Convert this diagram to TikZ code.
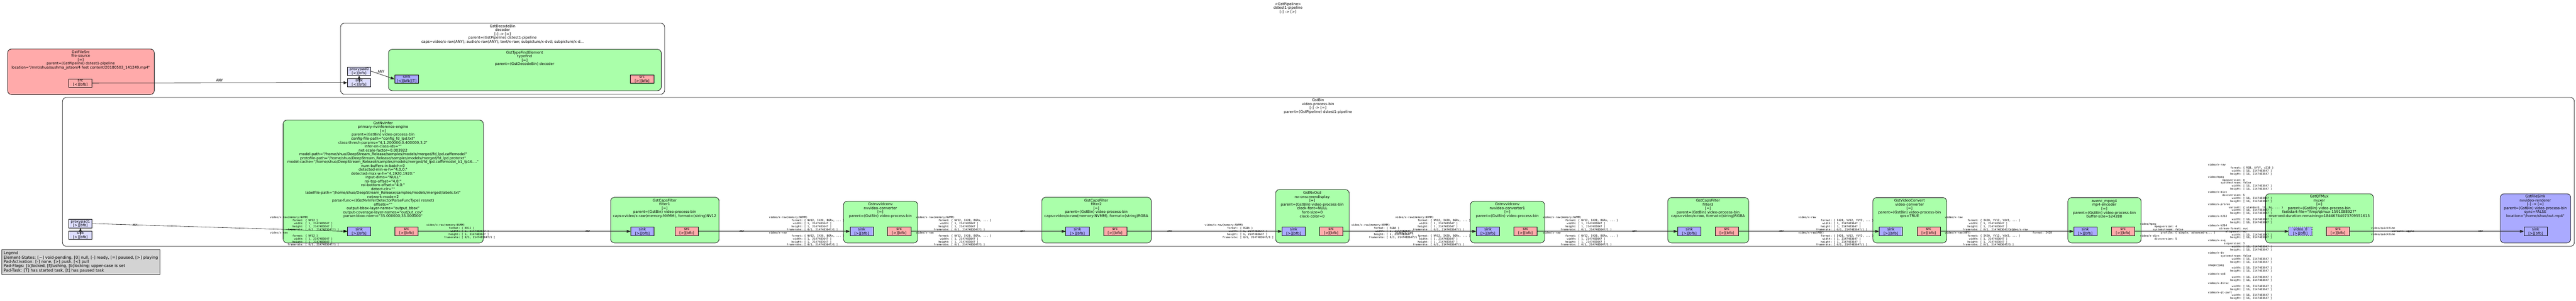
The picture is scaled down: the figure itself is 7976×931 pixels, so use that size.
\documentclass[tikz,border=0pt]{standalone}
\usepackage{fontspec}
\setmainfont{DejaVu Sans}[Ligatures=TeXOff]
\setmonofont{DejaVu Sans Mono}
\usetikzlibrary{arrows.meta}

\definecolor{elemgreen}{HTML}{AAFFAA}
\definecolor{srcred}{HTML}{FFAAAA}
\definecolor{sinkblue}{HTML}{AAAAFF}
\definecolor{ghostblue}{HTML}{DDDDFF}
\definecolor{legendgray}{HTML}{D3D3D3}

\newcommand\elemfont{\fontsize{11.2}{12}\selectfont}
\newcommand\padfont{\fontsize{11.2}{12.7}\selectfont}
\newcommand\capsfont{\ttfamily\fontsize{8.24}{9.4}\selectfont}
\newcommand\anyfont{\ttfamily\fontsize{11.6}{12}\selectfont}
\newcommand\legendfont{\fontsize{12.4}{13.3}\selectfont}
\newcommand\capfield[2]{\makebox[12.041em][r]{#1}: #2}
\newcommand\capsraw[2]{#1\\\capfield{format}{#2}\\\capfield{width}{[ 1, 2147483647 ]}\\\capfield{height}{[ 1, 2147483647 ]}\\\capfield{framerate}{[ 0/1, 2147483647/1 ]}}
\newcommand\capswh{\capfield{width}{[ 16, 2147483647 ]}\\\capfield{height}{[ 16, 2147483647 ]}}

\tikzset{
  bin/.style={draw=black, line width=1.2pt, fill=white, rounded corners=12pt, inner sep=0pt, anchor=north west},
  element/.style={draw=black, line width=1.2pt, rounded corners=12pt, inner sep=0pt, anchor=north west},
  elemtext/.style={align=center, font=\elemfont, inner sep=0pt},
  pad/.style={draw=black, line width=0.8pt, minimum width=72pt, minimum height=26pt, inner sep=0pt, align=center, font=\padfont},
  caps/.style={align=left, font=\capsfont, inner sep=0pt, anchor=west},
  anylabel/.style={font=\capsfont, inner sep=0pt},
  link/.style={->, line width=1.3pt, draw=black!85},
  >={Triangle[length=12pt,width=9pt]},
}

\begin{document}
\begin{tikzpicture}[x=1pt, y=-1pt]
  \useasboundingbox (0,0) rectangle (7976,931);
  \fill[white] (0,0) rectangle (7976,931);

  % pipeline title
  \node[elemtext] (title) at (3988,24.5) {<GstPipeline>\\dstest1-pipeline\\{}[-] -> [>]};

  % bins
  \node[bin, minimum width=1003pt, minimum height=220pt] (decoder) at (1054,71) {};
  \node[elemtext] (decoderlabel) at (1556,105.5) {GstDecodeBin\\decoder\\{}[-] -> [=]\\parent=(GstPipeline) dstest1-pipeline\\caps=video/x-raw(ANY); audio/x-raw(ANY); text/x-raw; subpicture/x-dvd; subpicture/x-d...};
  \node[bin, minimum width=7777pt, minimum height=461pt] (videobin) at (193,301) {};
  \node[elemtext] (videobinlabel) at (4081,329) {GstBin\\video-process-bin\\{}[-] -> [=]\\parent=(GstPipeline) dstest1-pipeline};

  % elements
  \node[element, fill=srcred, minimum width=454pt, minimum height=141pt] (filesource) at (23,151) {};
  \node[elemtext] at (250,186) {GstFileSrc\\file-source\\{}[=]\\parent=(GstPipeline) dstest1-pipeline\\location="/mnt/shuo/sushma\_jetson/4 feet content/20180503\_141249.mp4"};

  \node[element, fill=elemgreen, minimum width=845pt, minimum height=128pt] (typefind) at (1202,152) {};
  \node[elemtext] at (1624.5,181) {GstTypeFindElement\\typefind\\{}[=]\\parent=(GstDecodeBin) decoder};

  \node[element, fill=elemgreen, minimum width=620pt, minimum height=380pt] (primary) at (876,371) {};
  \node[elemtext] at (1186,526) {GstNvInfer\\primary-nvinference-engine\\{}[=]\\parent=(GstBin) video-process-bin\\config-file-path="config\_fd\_lpd.txt"\\class-thresh-params="4,1.200000,0.400000,3,2"\\infer-on-class-ids=""\\net-scale-factor=0.003922\\model-path="/home/shuo/DeepStream\_Release/samples/models/merged/fd\_lpd.caffemodel"\\protofile-path="/home/shuo/DeepStream\_Release/samples/models/merged/fd\_lpd.prototxt"\\model-cache="/home/shuo/DeepStream\_Release/samples/models/merged/fd\_lpd.caffemodel\_b1\_fp16...."\\num-buffers-in-batch=0\\detected-min-w-h="4,0,0:"\\detected-max-w-h="4,1920,1920:"\\input-dims="NULL"\\roi-top-offset="4,0:"\\roi-bottom-offset="4,0:"\\detect-clr=""\\labelfile-path="/home/shuo/DeepStream\_Release/samples/models/merged/labels.txt"\\network-mode=2\\parse-func=((GstNvInferDetectorParseFuncType) resnet)\\offsets=""\\output-bbox-layer-name="output\_bbox"\\output-coverage-layer-names="output\_cov"\\parser-bbox-norm="35.000000;35.000000"};

  \node[element, fill=elemgreen, minimum width=336pt, minimum height=141pt] (filter1) at (1890,610) {};
  \node[elemtext] at (2058,645) {GstCapsFilter\\filter1\\{}[=]\\parent=(GstBin) video-process-bin\\caps=video/x-raw(memory:NVMM), format=(string)NV12};

  \node[element, fill=elemgreen, minimum width=230pt, minimum height=129pt] (converter) at (2611,622) {};
  \node[elemtext] at (2726,651) {Gstnvvidconv\\nvvideo-converter\\{}[=]\\parent=(GstBin) video-process-bin};

  \node[element, fill=elemgreen, minimum width=339pt, minimum height=141pt] (filter2) at (3225,610) {};
  \node[elemtext] at (3394.5,645) {GstCapsFilter\\filter2\\{}[=]\\parent=(GstBin) video-process-bin\\caps=video/x-raw(memory:NVMM), format=(string)RGBA};

  \node[element, fill=elemgreen, minimum width=228pt, minimum height=165pt] (osd) at (3949,586) {};
  \node[elemtext] at (4063,633) {GstNvOsd\\nv-onscreendisplay\\{}[=]\\parent=(GstBin) video-process-bin\\clock-font=NULL\\font-size=0\\clock-color=0};

  \node[element, fill=elemgreen, minimum width=230pt, minimum height=129pt] (converter1) at (4552,622) {};
  \node[elemtext] at (4667,651) {Gstnvvidconv\\nvvideo-converter1\\{}[=]\\parent=(GstBin) video-process-bin};

  \node[element, fill=elemgreen, minimum width=251pt, minimum height=140pt] (filter3) at (5163,611) {};
  \node[elemtext] at (5288.5,646) {GstCapsFilter\\filter3\\{}[=]\\parent=(GstBin) video-process-bin\\caps=video/x-raw, format=(string)RGBA};

  \node[element, fill=elemgreen, minimum width=229pt, minimum height=140pt] (videoconv) at (5798,611) {};
  \node[elemtext] at (5912.5,646) {GstVideoConvert\\video-converter\\{}[=]\\parent=(GstBin) video-process-bin\\qos=TRUE};

  \node[element, fill=elemgreen, minimum width=227pt, minimum height=140pt] (encoder) at (6402,611) {};
  \node[elemtext] at (6515.5,646) {avenc\_mpeg4\\mp4-encoder\\{}[=]\\parent=(GstBin) video-process-bin\\buffer-size=524288};

  \node[element, fill=elemgreen, minimum width=334pt, minimum height=152pt] (muxer) at (7014,599) {};
  \node[elemtext] at (7181,639) {GstQTMux\\muxer\\{}[=]\\parent=(GstBin) video-process-bin\\faststart-file="/tmp/qtmux-1591088927"\\reserved-duration-remaining=18446744073709551615};

  \node[element, fill=sinkblue, minimum width=218pt, minimum height=152pt] (filesink) at (7741,599) {};
  \node[elemtext] at (7850,639) {GstFileSink\\nvvideo-renderer\\{}[-] -> [=]\\parent=(GstBin) video-process-bin\\sync=FALSE\\location="/home/shuo/out.mp4"};

  % pads
  \node[pad, fill=srcred] (fsrcsrc) at (249,257) {src\\{}[<][bfb]};
  \node[pad, fill=ghostblue] (decsink) at (1112,256) {sink\\{}[<][bfb]};
  \node[pad, fill=ghostblue] (decproxy) at (1112,220) {proxypad0\\{}[<][bfb]};
  \node[pad, fill=sinkblue, minimum width=74pt] (tfsink) at (1259,245) {sink\\{}[<][bfb][T]};
  \node[pad, fill=srcred] (tfsrc) at (1988,245) {src\\{}[>][bfb]};

  \node[pad, fill=ghostblue] (vbsink) at (249,728) {sink\\{}[>][bfb]};
  \node[pad, fill=ghostblue] (vbproxy) at (249,692) {proxypad1\\{}[>][bfb]};

  \node[pad, fill=sinkblue] (psink) at (1112,716) {sink\\{}[>][bfb]};
  \node[pad, fill=srcred] (psrc) at (1258.5,716) {src\\{}[>][bfb]};
  \node[pad, fill=sinkblue] (f1sink) at (1989,716) {sink\\{}[>][bfb]};
  \node[pad, fill=srcred] (f1src) at (2126.5,716) {src\\{}[>][bfb]};
  \node[pad, fill=sinkblue] (csink) at (2668,716) {sink\\{}[>][bfb]};
  \node[pad, fill=srcred] (csrc) at (2784,716) {src\\{}[>][bfb]};
  \node[pad, fill=sinkblue] (f2sink) at (3336,716) {sink\\{}[>][bfb]};
  \node[pad, fill=srcred] (f2src) at (3452.5,716) {src\\{}[>][bfb]};
  \node[pad, fill=sinkblue] (osdsink) at (4005.5,716) {sink\\{}[>][bfb]};
  \node[pad, fill=srcred] (osdsrc) at (4121.5,716) {src\\{}[>][bfb]};
  \node[pad, fill=sinkblue] (c1sink) at (4607,716) {sink\\{}[>][bfb]};
  \node[pad, fill=srcred] (c1src) at (4723.5,716) {src\\{}[>][bfb]};
  \node[pad, fill=sinkblue] (f3sink) at (5230.5,716) {sink\\{}[>][bfb]};
  \node[pad, fill=srcred] (f3src) at (5346.5,716) {src\\{}[>][bfb]};
  \node[pad, fill=sinkblue] (vcsink) at (5854.5,716) {sink\\{}[>][bfb]};
  \node[pad, fill=srcred] (vcsrc) at (5971.5,716) {src\\{}[>][bfb]};
  \node[pad, fill=sinkblue] (encsink) at (6456.5,716) {sink\\{}[>][bfb]};
  \node[pad, fill=srcred] (encsrc) at (6573.5,716) {src\\{}[>][bfb]};
  \node[pad, fill=sinkblue, dashed] (muxvideo) at (7122.5,716) {video\_0\\{}[>][bfb]};
  \node[pad, fill=srcred] (muxsrc) at (7239,716) {src\\{}[>][bfb]};
  \node[pad, fill=sinkblue] (fssink) at (7851,716) {sink\\{}[>][bfb]};

  % links
  \draw[link] (decsink.center) -- (decproxy.south);
  \draw[link] (vbsink.center) -- (vbproxy.south);
  \draw[link] (fsrcsrc.east) -- (decsink.west);
  \draw[link] (decproxy.east) -- (tfsink.west);
  \draw[link, line width=0.9pt, draw=black] (vbproxy.east) -- (psink.west);
  \draw[link] (psrc.east) -- (f1sink.west);
  \draw[link] (f1src.east) -- (csink.west);
  \draw[link] (csrc.east) -- (f2sink.west);
  \draw[link] (f2src.east) -- (osdsink.west);
  \draw[link] (osdsrc.east) -- (c1sink.west);
  \draw[link] (c1src.east) -- (f3sink.west);
  \draw[link] (f3src.east) -- (vcsink.west);
  \draw[link] (vcsrc.east) -- (encsink.west);
  \draw[link] (encsrc.east) -- (muxvideo.west);
  \draw[link] (muxsrc.east) -- (fssink.west);

  % link labels
  \node[font=\anyfont, inner sep=0pt] (any1) at (680,249) {ANY};
  \node[font=\anyfont, inner sep=0pt] (any2) at (1180,222) {ANY};
  \node[anylabel] (any3) at (418,697) {ANY};
  \node[anylabel] (any4) at (1820,716) {ANY};
  \node[anylabel] (any5) at (2297,716) {ANY};
  \node[anylabel] (any6) at (3166,716) {ANY};
  \node[anylabel] (any7) at (3622,716) {ANY};
  \node[anylabel] (any8) at (5061,716) {ANY};
  \node[anylabel] (any9) at (5516,716) {ANY};
  \node[anylabel] (any10) at (7681,716) {ANY};

  \node[caps] (capsa) at (836,716) {\capsraw{video/x-raw(memory:NVMM)}{\{ NV12 \}}\\\capsraw{video/x-raw}{\{ NV12 \}}};
  \node[caps] (capsb) at (1320,716) {\capsraw{video/x-raw(memory:NVMM)}{\{ NV12 \}}};
  \node[caps] (capsc) at (2381,716) {\capsraw{video/x-raw(memory:NVMM)}{\{ NV12, I420, BGRx, ... \}}\\\capsraw{video/x-raw}{\{ NV12, I420, BGRx, ... \}}};
  \node[caps] (capsd) at (2836,716) {\capsraw{video/x-raw(memory:NVMM)}{\{ NV12, I420, BGRx, ... \}}\\\capsraw{video/x-raw}{\{ NV12, I420, BGRx, ... \}}};
  \node[caps] (capse) at (3730,716) {\capsraw{video/x-raw(memory:NVMM)}{\{ RGBA \}}};
  \node[caps] (capsf) at (4184,716) {\capsraw{video/x-raw(memory:NVMM)}{\{ RGBA \}}};
  \node[caps] (capsg) at (4320,716) {\capsraw{video/x-raw(memory:NVMM)}{\{ NV12, I420, BGRx, ... \}}\\\capsraw{video/x-raw}{\{ NV12, I420, BGRx, ... \}}};
  \node[caps] (capsh) at (4777,716) {\capsraw{video/x-raw(memory:NVMM)}{\{ NV12, I420, BGRx, ... \}}\\\capsraw{video/x-raw}{\{ NV12, I420, BGRx, ... \}}};
  \node[caps] (capsi) at (5568,716) {\capsraw{video/x-raw}{\{ I420, YV12, YUY2, ... \}}\\\capsraw{video/x-raw(ANY)}{\{ I420, YV12, YUY2, ... \}}};
  \node[caps] (capsj) at (6022,716) {\capsraw{video/x-raw}{\{ I420, YV12, YUY2, ... \}}\\\capsraw{video/x-raw(ANY)}{\{ I420, YV12, YUY2, ... \}}};
  \node[caps] (capsk) at (6224,716) {video/x-raw\\\capfield{format}{I420}};
  \node[caps] (capsl) at (6626,716) {video/mpeg\\\capfield{mpegversion}{4}\\\capfield{systemstream}{false}\\\capfield{profile}{\{ simple, advanced-s... \}}\\video/x-divx\\\capfield{divxversion}{5}};
  \node[caps] (capsm) at (6836,717.5) {video/x-raw\\\capfield{format}{\{ RGB, UYVY, v210 \}}\\\capswh\\video/mpeg\\\capfield{mpegversion}{4}\\\capfield{systemstream}{false}\\\capswh\\video/x-divx\\\capfield{divxversion}{5}\\\capswh\\video/x-prores\\\capfield{variant}{\{ standard, lt, hq, ... \}}\\\capswh\\video/x-h263\\\capswh\\video/x-h264\\\capfield{stream-format}{avc}\\\capfield{alignment}{au}\\\capswh\\video/x-svq\\\capfield{svqversion}{3}\\\capswh\\video/x-dv\\\capfield{systemstream}{false}\\\capswh\\image/jpeg\\\capswh\\video/x-vp8\\\capswh\\video/x-dirac\\\capswh\\video/x-qt-part\\\capswh};
  \node[caps] (capsn) at (7341,716) {video/quicktime\\\capfield{variant}{apple}\\video/quicktime};

  % legend
  \node[draw=black!80, line width=1pt, fill=legendgray, anchor=north west, inner xsep=6pt, inner ysep=6pt, align=left, font=\legendfont] (legend) at (5,772) {Legend\\Element-States: [\textasciitilde] void-pending, [0] null, [-] ready, [=] paused, [>] playing\\Pad-Activation: [-] none, [>] push, [<] pull\\Pad-Flags: [b]locked, [f]lushing, [b]locking; upper-case is set\\Pad-Task: [T] has started task, [t] has paused task};
\end{tikzpicture}
\end{document}
